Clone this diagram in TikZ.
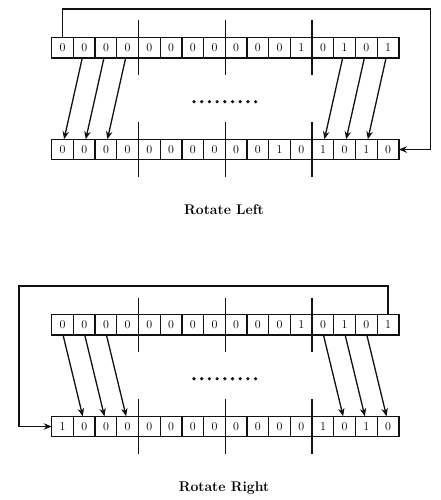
\documentclass[tikz,border=0pt]{standalone}
\usepackage{tikz}
\usetikzlibrary{arrows.meta}
\definecolor{regBlack}{HTML}{111111}

\begin{document}
\begin{tikzpicture}[x=1pt,y=-1pt,
  bitcell/.style={draw=regBlack,line width=1.3pt,minimum width=21.7pt,minimum height=20.5pt,
    inner sep=0pt,outer sep=0pt,font=\fontsize{12}{14}\selectfont},
  divider/.style={draw=regBlack,line width=1.3pt},
  shiftarrow/.style={draw=regBlack,line width=1.3pt,-{Stealth[length=8pt,width=6.5pt]}},
  caption/.style={font=\fontsize{14}{16}\selectfont\bfseries}]
\useasboundingbox (0,0) rectangle (441,500);

% Rotate Left
\foreach \b [count=\i from 0] in {0,0,0,0,0,0,0,0,0,0,0,1,0,1,0,1}
  \node[bitcell] (lt\i) at (62.55+21.7*\i,47.75) {\b};
\foreach \b [count=\i from 0] in {0,0,0,0,0,0,0,0,0,0,1,0,1,0,1,0}
  \node[bitcell] (lb\i) at (62.55+21.7*\i,149.5) {\b};
\foreach \i in {3,7,11}{
  \draw[divider] ([yshift=17pt]lt\i.north east) -- ([yshift=-17pt]lt\i.south east);
  \draw[divider] ([yshift=17pt]lb\i.north east) -- ([yshift=-17pt]lb\i.south east);
}
\foreach \i/\j in {1/0,2/1,3/2,13/12,14/13,15/14}
  \draw[shiftarrow] ([xshift=-2pt]lt\i.south) -- ([xshift=1.5pt]lb\j.north);
\coordinate (loopL) at (430.7,9);
\draw[shiftarrow] (lt0.north) |- (loopL) |- (lb15.east);
\foreach \k in {0,...,8}
  \fill[regBlack] (194+7.7*\k,101.7) circle (1.8pt);
\node[caption] (titleL) at (224,210) {Rotate Left};

% Rotate Right
\foreach \b [count=\i from 0] in {0,0,0,0,0,0,0,0,0,0,0,1,0,1,0,1}
  \node[bitcell] (rt\i) at (62.55+21.7*\i,324.75) {\b};
\foreach \b [count=\i from 0] in {1,0,0,0,0,0,0,0,0,0,0,0,1,0,1,0}
  \node[bitcell] (rb\i) at (62.55+21.7*\i,426.5) {\b};
\foreach \i in {3,7,11}{
  \draw[divider] ([yshift=17pt]rt\i.north east) -- ([yshift=-17pt]rt\i.south east);
  \draw[divider] ([yshift=17pt]rb\i.north east) -- ([yshift=-17pt]rb\i.south east);
}
\foreach \i/\j in {0/1,1/2,2/3,12/13,13/14,14/15}
  \draw[shiftarrow] ([xshift=0.5pt]rt\i.south) -- ([xshift=-1.5pt]rb\j.north);
\coordinate (loopR) at (19,286);
\draw[shiftarrow] (rt15.north) |- (loopR) |- (rb0.west);
\foreach \k in {0,...,8}
  \fill[regBlack] (194+7.7*\k,378.7) circle (1.8pt);
\node[caption] (titleR) at (224,487.7) {Rotate Right};
\end{tikzpicture}
\end{document}
